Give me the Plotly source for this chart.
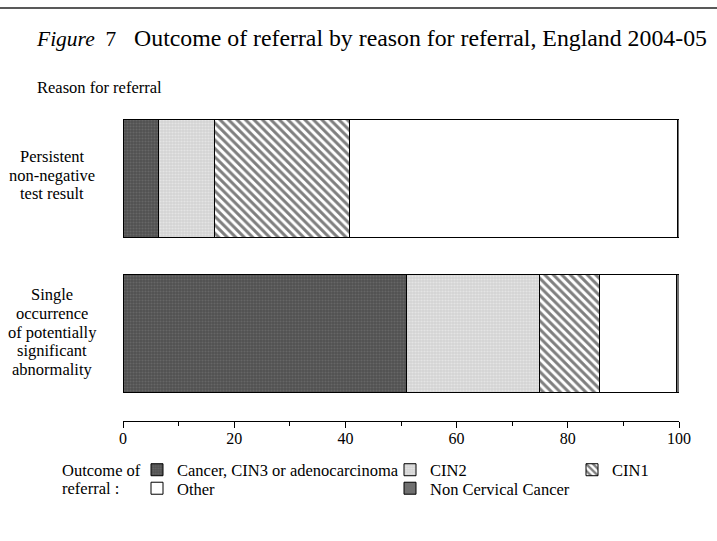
import plotly.graph_objects as go

reasons = ["Single occurrence of potentially significant abnormality",
           "Persistent non-negative test result"]
reason_label_lines = [["Single", "occurrence", "of potentially", "significant", "abnormality"],
                      ["Persistent", "non-negative", "test result"]]

outcomes = ["Cancer, CIN3 or adenocarcinoma", "CIN2", "CIN1", "Other", "Non Cervical Cancer"]
# values per outcome, ordered as reasons (Single, Persistent)
cancer = [51.0, 6.4]
cin2 = [23.9, 10.1]
cin1 = [10.8, 24.2]
other = [13.9, 59.1]
ncc = [0.4, 0.2]
series = [cancer, cin2, cin1, other, ncc]

x_ticks = [0, 20, 40, 60, 80, 100]

styles = [
    dict(color="#505050", pattern=dict(shape=".", bgcolor="#505050", fgcolor="#7c7c7c", size=3, solidity=0.4)),
    dict(color="#d6d6d6", pattern=dict(shape=".", bgcolor="#d4d4d4", fgcolor="#f4f4f4", size=3, solidity=0.4)),
    dict(color="white", pattern=dict(shape="\\", bgcolor="white", fgcolor="black", size=6, solidity=0.5)),
    dict(color="white"),
    dict(color="#707070"),
]
legend_ids = ["legend", "legend2", "legend3", "legend4", "legend5"]

FONT = "Liberation Serif, Times New Roman, serif"
fig = go.Figure()
for name, vals, st, lg in zip(outcomes, series, styles, legend_ids):
    m = dict(line=dict(color="black", width=1), **st)
    fig.add_trace(go.Bar(y=reasons, x=vals, name=name, orientation="h",
                         marker=m, width=0.76, legend=lg))

# geometry helpers (pixels)
W, H = 717, 541
AXIS_Y = 421
L, R, T, B = 123, 38, 116, 541 - AXIS_Y
pw, ph = W - L - R, H - T - B
y_range = [-0.563, 1.4]
def px_x(x):
    return (x - L) / pw
def px_y(y):
    return (H - B - y) / ph

annotations = []
# category labels, one annotation per line for tight line spacing
bar_centers_px = [333.5, 178.0]
label_offsets = [-1.5, -3.0]
LINE_GAP = 18.8
for lines, cy, off in zip(reason_label_lines, bar_centers_px, label_offsets):
    n = len(lines)
    for i, txt in enumerate(lines):
        ly = cy + off + (i - (n - 1) / 2) * LINE_GAP
        annotations.append(dict(x=px_x(52), xref="paper", y=px_y(ly), yref="paper", text=txt,
                                showarrow=False, xanchor="center", yanchor="middle",
                                font=dict(family=FONT, size=16.5, color="black")))
annotations.append(dict(x=px_x(34), xref="paper", y=px_y(38), yref="paper",
                        text='<span style="font-size:21.5px"><i>Figure</i>\u00a0\u00a07</span>'
                             '\u00a0\u00a0\u00a0Outcome of referral by reason for referral, England 2004-05',
                        showarrow=False, xanchor="left", yanchor="middle",
                        font=dict(family=FONT, size=23.8, color="black")))
annotations.append(dict(x=px_x(35), xref="paper", y=px_y(87), yref="paper",
                        text="Reason for referral", showarrow=False, xanchor="left", yanchor="middle",
                        font=dict(family=FONT, size=16.5, color="black")))
for txt, ly in zip(["Outcome of", "referral :"], [470, 488.5]):
    annotations.append(dict(x=px_x(60), xref="paper", y=px_y(ly), yref="paper",
                            text=txt, showarrow=False, xanchor="left", yanchor="middle",
                            font=dict(family=FONT, size=16.5, color="black")))

# legend placement (pixel positions of each single-entry legend)
leg_x = [137, 390, 572, 137, 390]
leg_y = [470, 470, 470, 488.5, 488.5]
legend_layout = {}
for lg, lx, ly in zip(legend_ids, leg_x, leg_y):
    legend_layout[lg] = dict(x=px_x(lx), xanchor="left", y=px_y(ly), yanchor="middle",
                             orientation="h", font=dict(family=FONT, size=16.5, color="black"),
                             bgcolor="rgba(0,0,0,0)", itemclick=False, itemdoubleclick=False,
                             tracegroupgap=0)

fig.update_layout(
    width=W, height=H,
    margin=dict(l=L, r=R, t=T, b=B),
    barmode="stack",
    paper_bgcolor="white", plot_bgcolor="white",
    font=dict(family=FONT, size=16, color="black"),
    showlegend=True,
    annotations=annotations,
    shapes=[dict(type="line", xref="paper", yref="paper", x0=px_x(0), x1=px_x(717),
                 y0=px_y(8), y1=px_y(8), line=dict(color="#222", width=1.5))],
    **legend_layout,
)
fig.update_xaxes(range=[0, 100], tickvals=x_ticks, ticktext=[str(t) for t in x_ticks],
                 showline=True, linecolor="black", linewidth=1, ticks="outside", ticklen=6,
                 tickcolor="black", showgrid=False, zeroline=False, ticklabelstandoff=-3,
                 tickfont=dict(family=FONT, size=16, color="black"),
                 minor=dict(dtick=10, ticks="outside", ticklen=4, tickcolor="black", showgrid=False))
fig.update_yaxes(categoryorder="array", categoryarray=reasons, range=y_range,
                 showticklabels=False, showline=False, showgrid=False, zeroline=False, ticks="")

fig.write_html("out.html", config={"displayModeBar": False},
               post_script="document.body.style.margin='0px';")
